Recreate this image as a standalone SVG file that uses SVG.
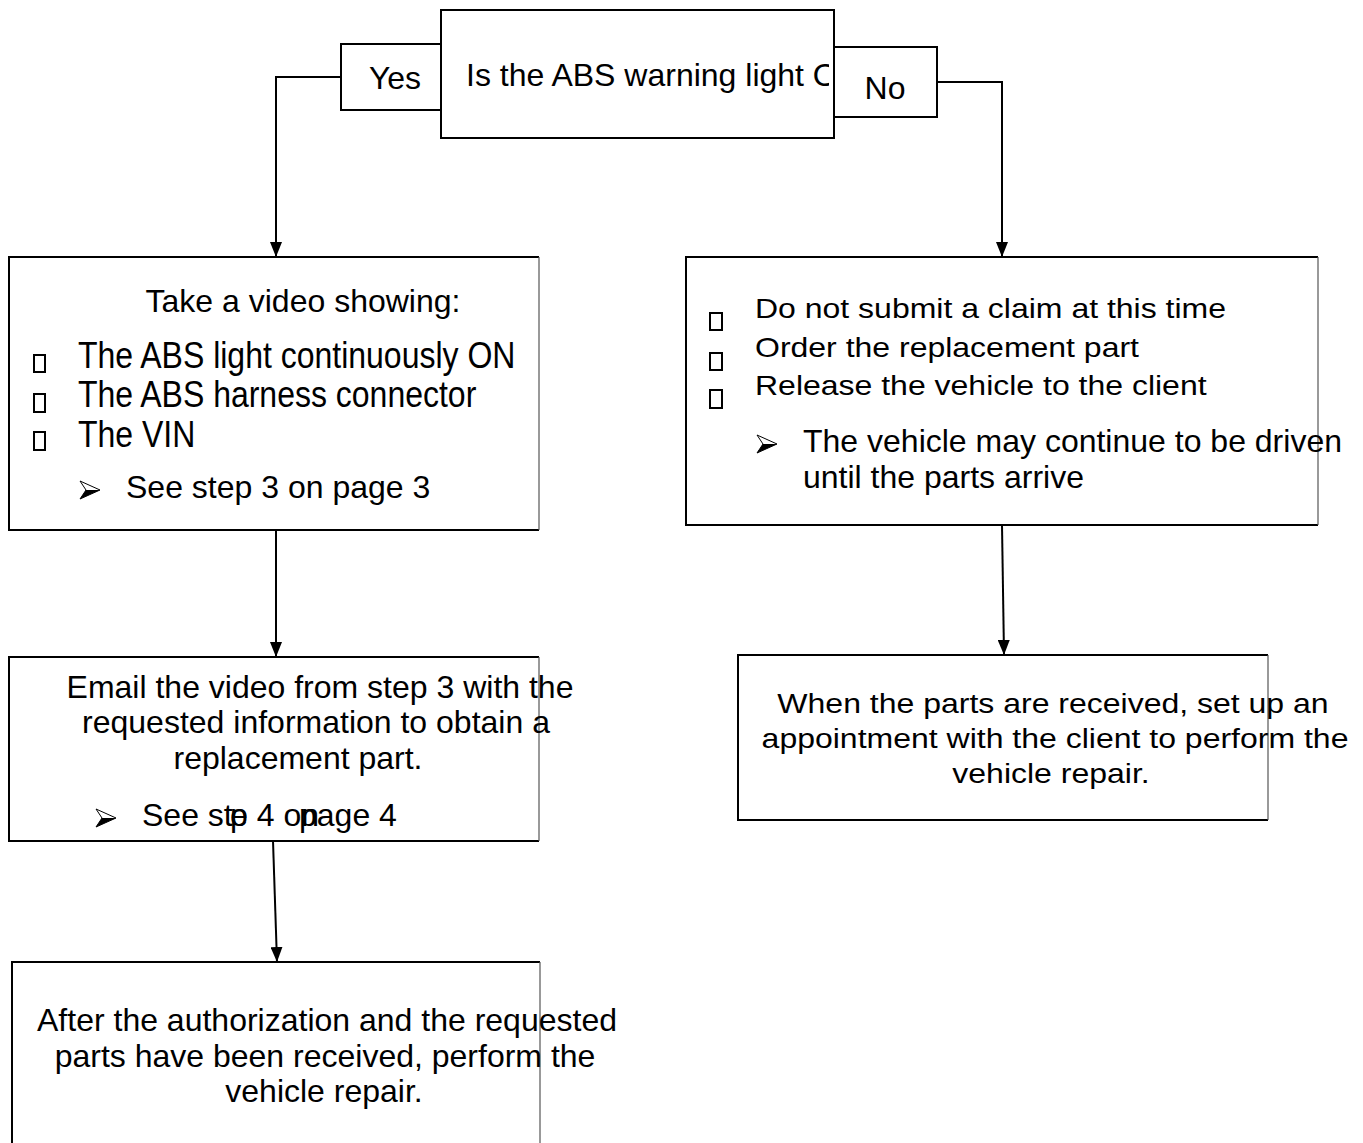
<svg xmlns="http://www.w3.org/2000/svg" width="1363" height="1143" viewBox="0 0 1363 1143">
<style>
.t{font-family:"Liberation Sans",Arial,sans-serif;font-size:32px;fill:#000}
.c{text-anchor:middle}
.b{fill:#fff;stroke:#000;stroke-width:2}
.e{fill:none;stroke:#000;stroke-width:2}
.r{stroke:#555;stroke-width:1.2}
.sq{fill:#fff;stroke:#000;stroke-width:2}
.ln{fill:none;stroke:#000;stroke-width:2}
</style>
<defs>
<marker id="ah2" viewBox="0 0 15 12" refX="15" refY="6" markerWidth="15" markerHeight="12" markerUnits="userSpaceOnUse" orient="auto">
<path d="M0,0 L15,6 L0,12 z" fill="#000"/>
</marker>
<g id="arr">
<path d="M0,-9 L20,0 L0,9 L6,0 Z" fill="#fff" stroke="#000" stroke-width="1"/>
<path d="M0,9 L20,0 L6,0 Z" fill="#000"/>
</g>
<clipPath id="qclip"><rect x="441" y="10" width="388" height="128"/></clipPath>
</defs>
<rect width="1363" height="1143" fill="#fff"/>

<g id="connectors">
<polyline class="ln" points="341,77 276,77 276,257" marker-end="url(#ah2)"/>
<polyline class="ln" points="937,82 1002,82 1002,257" marker-end="url(#ah2)"/>
<line class="ln" x1="276" y1="530" x2="276" y2="657" marker-end="url(#ah2)"/>
<line class="ln" x1="1002" y1="525" x2="1004" y2="655" marker-end="url(#ah2)"/>
<line class="ln" x1="273" y1="841" x2="277" y2="962" marker-end="url(#ah2)"/>
</g>

<g id="question">
<rect class="b" x="441" y="10" width="393" height="128"/>
<text class="t" x="466" y="86" clip-path="url(#qclip)">Is the ABS warning light O</text>
</g>
<g id="yes">
<rect class="b" x="341" y="44" width="100" height="66"/>
<text class="t c" x="395" y="89">Yes</text>
</g>
<g id="no">
<rect class="b" x="834" y="47" width="103" height="70"/>
<text class="t c" x="885" y="99">No</text>
</g>

<g id="video">
<rect x="9" y="257" width="530" height="273" fill="#fff"/>
<path class="e" d="M539,257 H9 V530 H539"/>
<line class="r" x1="539" y1="257" x2="539" y2="530"/>
<text class="t c" x="303" y="312">Take a video showing:</text>
<rect class="sq" x="34" y="355" width="11" height="17"/>
<rect class="sq" x="34" y="394" width="11" height="18"/>
<rect class="sq" x="34" y="432" width="11" height="18"/>
<text class="t" transform="translate(78,368) scale(1,1.16)">The ABS light continuously ON</text>
<text class="t" transform="translate(78,407) scale(1,1.16)">The ABS harness connector</text>
<text class="t" transform="translate(78,447) scale(1,1.16)">The VIN</text>
<use href="#arr" x="80" y="490"/>
<text class="t" x="126" y="498">See step 3 on page 3</text>
</g>

<g id="noaction">
<rect x="686" y="257" width="632" height="268" fill="#fff"/>
<path class="e" d="M1318,257 H686 V525 H1318"/>
<line class="r" x1="1318" y1="257" x2="1318" y2="525"/>
<rect class="sq" x="710" y="313" width="12" height="17"/>
<rect class="sq" x="710" y="353" width="12" height="17"/>
<rect class="sq" x="710" y="390" width="12" height="18"/>
<text class="t" transform="translate(755,318) scale(1,0.86)">Do not submit a claim at this time</text>
<text class="t" transform="translate(755,357) scale(1,0.86)">Order the replacement part</text>
<text class="t" transform="translate(755,395) scale(1,0.86)">Release the vehicle to the client</text>
<use href="#arr" x="757" y="444"/>
<text class="t" x="803" y="452">The vehicle may continue to be driven</text>
<text class="t" x="803" y="488">until the parts arrive</text>
</g>

<g id="email">
<rect x="9" y="657" width="530" height="184" fill="#fff"/>
<path class="e" d="M539,657 H9 V841 H539"/>
<line class="r" x1="539" y1="657" x2="539" y2="841"/>
<text class="t c" x="320" y="698">Email the video from step 3 with the</text>
<text class="t c" x="316" y="733">requested information to obtain a</text>
<text class="t c" x="298" y="769">replacement part.</text>
<use href="#arr" x="96" y="818"/>
<text class="t" x="142" y="826">See st<tspan x="230">e</tspan><tspan x="230">p</tspan> 4 o<tspan>n</tspan><tspan x="299">page 4</tspan></text>
</g>

<g id="appointment">
<rect x="738" y="655" width="530" height="165" fill="#fff"/>
<path class="e" d="M1268,655 H738 V820 H1268"/>
<line class="r" x1="1268" y1="655" x2="1268" y2="820"/>
<text class="t c" transform="translate(1053,713) scale(1,0.87)">When the parts are received, set up an</text>
<text class="t c" transform="translate(1055,748) scale(1,0.87)">appointment with the client to perform the</text>
<text class="t c" transform="translate(1051,783) scale(1,0.87)">vehicle repair.</text>
</g>

<g id="repair">
<rect x="12" y="962" width="528" height="190" fill="#fff"/>
<path class="e" d="M540,962 H12 V1150"/>
<line class="r" x1="540" y1="962" x2="540" y2="1150"/>
<text class="t c" x="327" y="1031">After the authorization and the requested</text>
<text class="t c" x="325" y="1067">parts have been received, perform the</text>
<text class="t c" x="324" y="1102">vehicle repair.</text>
</g>
</svg>
